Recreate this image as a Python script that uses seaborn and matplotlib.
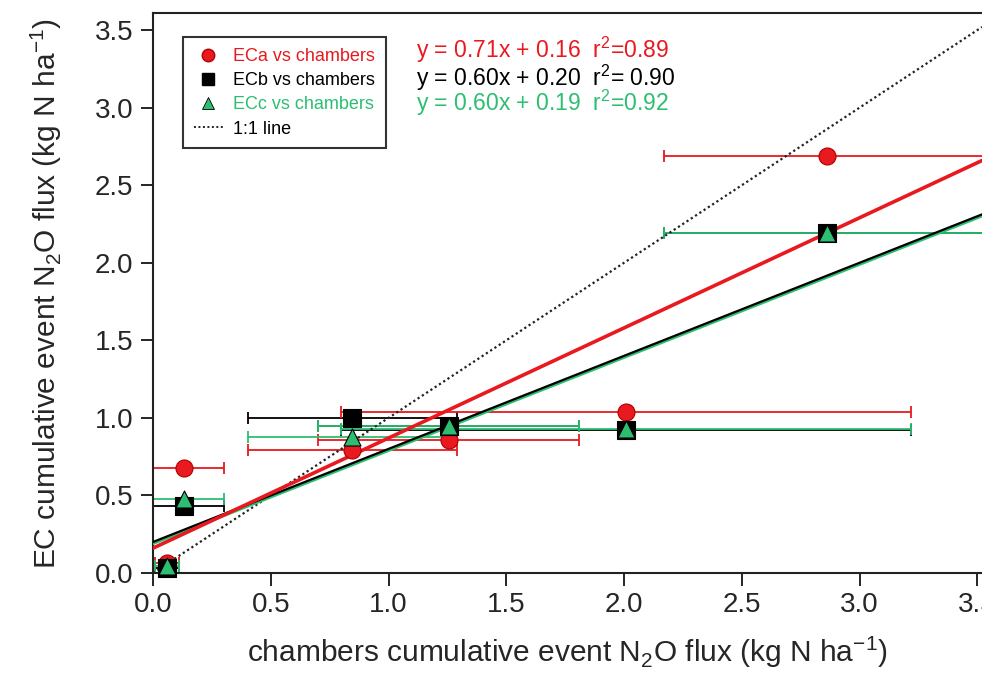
import matplotlib
matplotlib.use("Agg")
from matplotlib import pyplot as plt
from matplotlib.lines import Line2D
import pandas as pd
import seaborn as sns

# chamber fluxes (x) and their spread
chambers = [0.06, 0.13, 0.847, 1.255, 2.01, 2.86]
chambers_err = [0.05, 0.17, 0.445, 0.555, 1.21, 0.69]

# eddy covariance fluxes
eca = [0.064, 0.68, 0.79, 0.86, 1.04, 2.69]
ecb = [0.03, 0.43, 1.00, 0.95, 0.92, 2.19]
ecc = [0.045, 0.48, 0.875, 0.95, 0.93, 2.19]

# fitted lines (slope, intercept, r2) as printed on the figure
fits = {"ECa": (0.71, 0.16, "0.89"), "ECb": (0.60, 0.20, " 0.90"), "ECc": (0.60, 0.19, "0.92")}

RED = "#E8191F"
BLACK = "#000000"
GREEN = "#2DBE72"

df = pd.DataFrame({
    "chambers": chambers * 3,
    "err": chambers_err * 3,
    "EC": eca + ecb + ecc,
    "series": ["ECa"] * 6 + ["ECb"] * 6 + ["ECc"] * 6,
})

sns.set_style("ticks")
plt.rcParams["font.family"] = ["Liberation Sans", "DejaVu Sans"]
plt.rcParams["mathtext.fontset"] = "custom"
plt.rcParams["mathtext.rm"] = "Liberation Sans"

fig = plt.figure(figsize=(9.82, 6.73), dpi=100)
ax = fig.add_axes([0.1558, 0.1486, 0.8442, 0.832])

colors = {"ECa": RED, "ECb": BLACK, "ECc": GREEN}
markers = {"ECa": "o", "ECb": "s", "ECc": "^"}
edges = {"ECa": "#B00000", "ECb": "black", "ECc": "black"}

# error bars first
for name in ["ECb", "ECa", "ECc"]:
    sub = df[df["series"] == name]
    ax.errorbar(sub["chambers"], sub["EC"], xerr=sub["err"], fmt="none",
                ecolor=colors[name], elinewidth=1.3, capsize=4, capthick=1.3,
                zorder=2)

# 1:1 line and fitted lines
ax.axline((0, 0), slope=1, color="#222222", ls=(0, (1.0, 1.3)), lw=1.6, zorder=3)
ax.axline((0, fits["ECc"][1]), slope=fits["ECc"][0], color=GREEN, lw=2.2, zorder=3)
ax.axline((0, fits["ECb"][1]), slope=fits["ECb"][0], color=BLACK, lw=1.6, zorder=3)
ax.axline((0, fits["ECa"][1]), slope=fits["ECa"][0], color=RED, lw=2.6, zorder=3)

# markers
for name in ["ECa", "ECb", "ECc"]:
    sub = df[df["series"] == name]
    sns.scatterplot(data=sub, x="chambers", y="EC", ax=ax, color=colors[name],
                    marker=markers[name], s=150, edgecolor=edges[name],
                    linewidth=0.8, zorder=5, clip_on=False, legend=False)

ax.set_xlim(0, 3.52)
ax.set_ylim(0, 3.61)
ax.set_xticks([0, 0.5, 1.0, 1.5, 2.0, 2.5, 3.0, 3.5])
ax.set_yticks([0, 0.5, 1.0, 1.5, 2.0, 2.5, 3.0, 3.5])
ax.xaxis.set_major_formatter(matplotlib.ticker.FormatStrFormatter("%.1f"))
ax.yaxis.set_major_formatter(matplotlib.ticker.FormatStrFormatter("%.1f"))
ax.tick_params(axis="both", direction="out", length=9, width=1.2,
               labelsize=20, pad=5, color="black")
for side in ["left", "bottom", "top"]:
    ax.spines[side].set_linewidth(1.5)
    ax.spines[side].set_color("#222222")
ax.spines["right"].set_visible(False)

ax.set_xlabel("chambers cumulative event N$_2$O flux (kg N ha$^{-1}$)",
              fontsize=21.5, labelpad=11)
ax.set_ylabel("EC cumulative event N$_2$O flux (kg N ha$^{-1}$)",
              fontsize=21.5, labelpad=22)

# legend
handles = [
    Line2D([], [], ls="none", marker="o", color=RED, markeredgecolor="#B00000", markersize=9),
    Line2D([], [], ls="none", marker="s", color=BLACK, markersize=8),
    Line2D([], [], ls="none", marker="^", color=GREEN, markeredgecolor="black",
           markeredgewidth=0.6, markersize=9),
    Line2D([], [], color="#222222", ls=(0, (1.0, 1.3)), lw=1.4),
]
labels = ["ECa vs chambers", "ECb vs chambers", "ECc vs chambers", "1:1 line"]
leg = ax.legend(handles, labels, loc="upper left", bbox_to_anchor=(0.036, 0.957),
                borderaxespad=0, fontsize=13, frameon=True, fancybox=False,
                handlelength=1.6, handletextpad=0.6, borderpad=0.6,
                labelspacing=0.4, labelcolor=[RED, BLACK, GREEN, BLACK])
leg.get_frame().set_edgecolor("black")
leg.get_frame().set_linewidth(1.5)

# fit equations
ys = [3.37, 3.19, 3.03]
for (name, (m, b, r2)), yy in zip(fits.items(), ys):
    ax.text(1.115, yy, f"y = {m:.2f}x + {b:.2f}  r$^2$={r2}", color=colors[name],
            fontsize=16.5, va="center", ha="left")

fig.savefig("out.png", dpi=100)
